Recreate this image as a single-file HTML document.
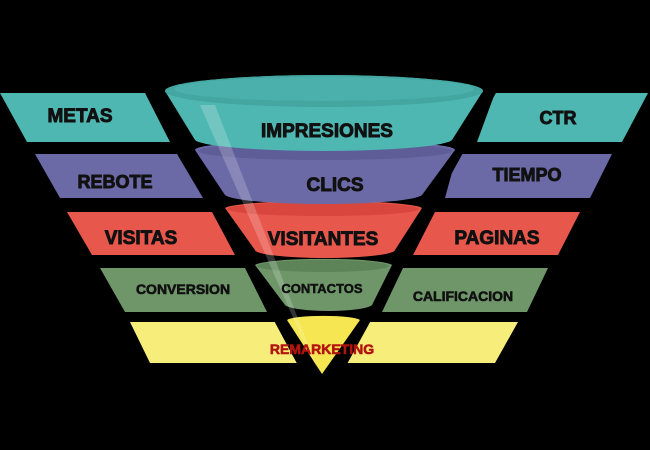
<!DOCTYPE html>
<html><head><meta charset="utf-8"><style>
html,body{margin:0;padding:0;background:#000;}
svg{display:block}
text{font-family:"Liberation Sans",Arial,sans-serif;font-weight:700;text-anchor:middle;fill:#111;stroke:#111;stroke-width:0.9;}
</style></head><body>
<svg width="650" height="450" viewBox="0 0 650 450" xmlns="http://www.w3.org/2000/svg">
<rect width="650" height="450" fill="#000"/>
<polygon points="0,93 145,93 170,142 27,142" fill="#4fb7b2"/>
<polygon points="35,154 177,154 203,198 60,198" fill="#6b6aa6"/>
<polygon points="67,212 212,212 235,255 92,255" fill="#e8574c"/>
<polygon points="100,268 245,268 267,312 125,312" fill="#6e9669"/>
<polygon points="495,93 648,93 622,142 477,142" fill="#4fb7b2"/>
<polygon points="457,154 612,154 590,198 445,198" fill="#6b6aa6"/>
<polygon points="435,212 580,212 558,255 413,255" fill="#e8574c"/>
<polygon points="403,268 548,268 527,312 382,312" fill="#6e9669"/>
<polygon points="130,322 518,322 495,363 150,363" fill="#f7ed7a"/>
<line x1="158" y1="85" x2="316" y2="380" stroke="#000" stroke-width="18"/>
<line x1="490" y1="85" x2="328" y2="380" stroke="#000" stroke-width="18"/>
<path d="M287,320 L322,374 L360,320 A37,5 0 0 0 287,320 Z" fill="#f5e652"/>
<path d="M255,265 L285,305 A44,7 0 0 0 372,305 L392,265 A69,7 0 0 0 255,265 Z" fill="#6e9669"/>
<ellipse cx="323" cy="266" rx="66" ry="6" fill="#5d8458"/>
<path d="M225,208 L255,250 A70,8 0 0 0 395,250 L422,208 A99,8 0 0 0 225,208 Z" fill="#e8574c"/>
<ellipse cx="323" cy="209" rx="96" ry="7" fill="#d9463d"/>
<path d="M195,150 L225,195 A99,10 0 0 0 422,195 L455,150 A130,10 0 0 0 195,150 Z" fill="#6b6aa6"/>
<ellipse cx="325" cy="151" rx="127" ry="9" fill="#5e5d98"/>
<path d="M165,91 L195,140 A129,12 0 0 0 452,140 L483,91 A159,16 0 0 0 165,91 Z" fill="#4fb7b2"/>
<ellipse cx="324" cy="91" rx="159" ry="16" fill="#43a6a1"/>
<ellipse cx="324" cy="89" rx="150" ry="12" fill="#4bb0ab"/>
<polygon points="200,105 215,105 318,370 305,345" fill="#ffffff" opacity="0.2"/>
<text x="80" y="122" font-size="19">METAS</text>
<text x="115" y="188" font-size="18">REBOTE</text>
<text x="141" y="244" font-size="19">VISITAS</text>
<text x="183" y="294" font-size="14" style="stroke-width:0.6">CONVERSION</text>
<text x="558" y="124" font-size="18">CTR</text>
<text x="527" y="181" font-size="18">TIEMPO</text>
<text x="497" y="244" font-size="19">PAGINAS</text>
<text x="463" y="301" font-size="14" style="stroke-width:0.6">CALIFICACION</text>
<text x="327" y="137" font-size="19">IMPRESIONES</text>
<text x="335" y="191" font-size="19">CLICS</text>
<text x="323" y="245" font-size="19">VISITANTES</text>
<text x="322" y="293" font-size="13" style="stroke-width:0.5">CONTACTOS</text>
<text x="322" y="354" font-size="14" style="fill:#b3140f;stroke:#b3140f;stroke-width:0.6">REMARKETING</text>
</svg>
</body></html>
